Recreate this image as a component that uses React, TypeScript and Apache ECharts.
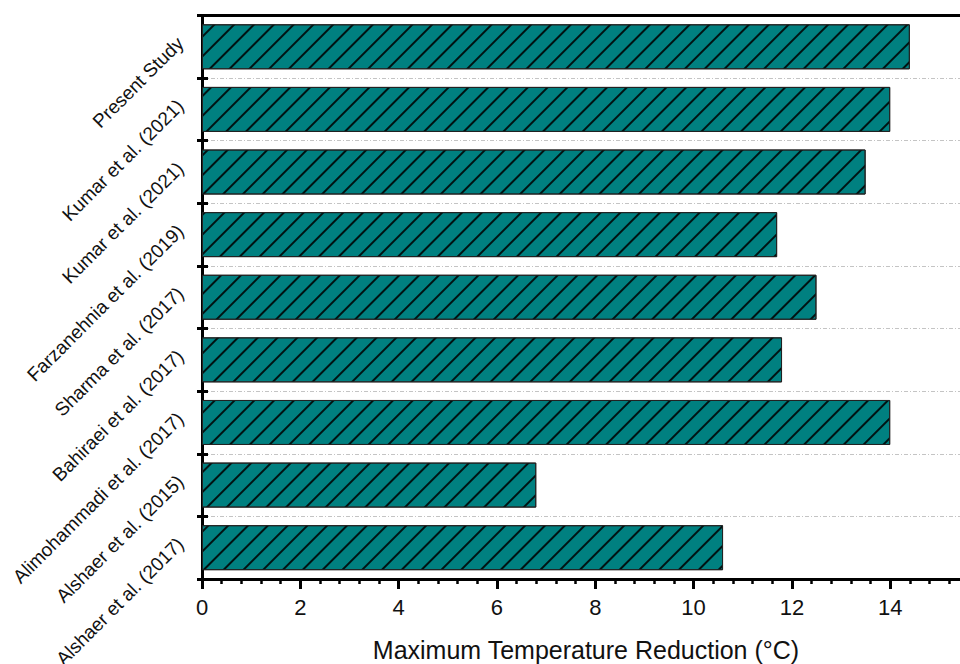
import React, { useEffect, useRef } from "react";
import * as echarts from "echarts";

// bottom -> top
const categories = [
  "Alshaer et al. (2017)",
  "Alshaer et al. (2015)",
  "Alimohammadi et al. (2017)",
  "Bahiraei et al. (2017)",
  "Sharma et al. (2017)",
  "Farzanehnia et al. (2019)",
  "Kumar et al. (2021)",
  "Kumar et al. (2021)",
  "Present Study",
];
const reductionValues = [10.6, 6.8, 14.0, 11.8, 12.5, 11.7, 13.5, 14.0, 14.4];
const xTitle = "Maximum Temperature Reduction (°C)";

const FONT = "'Liberation Sans', Arial, sans-serif";

export default function App() {
  const ref = useRef<HTMLDivElement>(null);
  useEffect(() => {
    if (!ref.current) return;
    const chart = echarts.init(ref.current, null, { renderer: "svg" });
    chart.setOption({
      animation: false,
      backgroundColor: "#fff",
      grid: {
        left: 202,
        top: 15.5,
        bottom: 85,
        right: -28.5,
        containLabel: false,
        outerBoundsMode: "none",
      },
      xAxis: [
        {
          type: "value",
          min: 0,
          max: 16,
          interval: 2,
          position: "bottom",
          axisLine: { show: true, onZero: false, lineStyle: { color: "#000", width: 3 } },
          axisTick: { show: true, length: 10, lineStyle: { color: "#000", width: 3 } },
          minorTick: { show: true, splitNumber: 5, length: 5, lineStyle: { color: "#000", width: 2.5 } },
          axisLabel: { fontSize: 22, color: "#111", margin: 17, fontFamily: FONT, showMaxLabel: false },
          splitLine: { show: false },
        },
        {
          type: "value",
          min: 0,
          max: 16,
          position: "top",
          axisLine: { show: true, onZero: false, lineStyle: { color: "#000", width: 3 } },
          axisTick: { show: false },
          axisLabel: { show: false },
          splitLine: { show: false },
        },
      ],
      yAxis: [
        {
          type: "category",
          data: categories,
          position: "left",
          axisLine: { show: true, onZero: false, lineStyle: { color: "#000", width: 3 } },
          axisTick: { show: true, length: 5, lineStyle: { color: "#000", width: 3 } },
          axisLabel: {
            rotate: 45,
            fontSize: 19,
            color: "#111",
            margin: 15,
            verticalAlign: "bottom",
            fontFamily: FONT,
          },
          splitLine: {
            show: true,
            lineStyle: { color: "#c4c4c4", width: 1, type: [4, 2, 1, 2] },
          },
        },
        {
          type: "category",
          data: categories,
          position: "left",
          axisLine: { show: false },
          axisTick: { show: true, inside: true, length: 6, lineStyle: { color: "#000", width: 3 } },
          axisLabel: { show: false },
          splitLine: { show: false },
        },
      ],
      series: [
        {
          type: "bar",
          xAxisIndex: 0,
          yAxisIndex: 0,
          data: reductionValues,
          barWidth: 45,
          itemStyle: {
            color: "#008080",
            borderColor: "#222",
            borderWidth: 1,
            decal: {
              symbol: "rect",
              symbolSize: 1,
              color: "rgba(0,0,0,0.85)",
              dashArrayX: [20, 0],
              dashArrayY: [1.1, 11.6],
              rotation: -Math.PI / 4,
            },
          },
        },
      ],
      graphic: [
        {
          type: "text",
          x: 586,
          y: 650,
          style: {
            text: xTitle,
            align: "center",
            verticalAlign: "middle",
            fontSize: 25,
            fontFamily: FONT,
            fill: "#111",
          },
        },
      ],
    });
    return () => chart.dispose();
  }, []);
  return (
    <div
      ref={ref}
      style={{ position: "fixed", left: 0, top: 0, width: 960, height: 664 }}
    />
  );
}
